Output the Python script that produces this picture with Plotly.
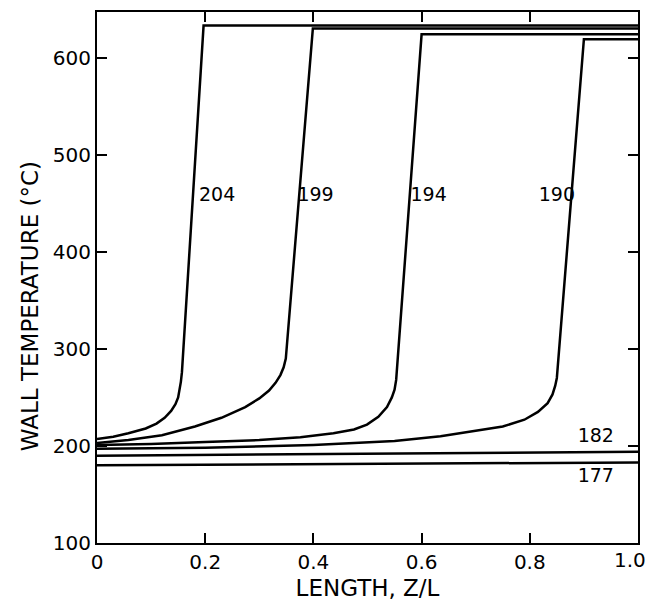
import plotly.graph_objects as go

# Curve data (length Z/L, wall temperature °C)
x204 = [0, 0.03, 0.058, 0.09, 0.11, 0.125, 0.137, 0.145, 0.15, 0.153, 0.155, 0.157, 0.197, 1.0]
y204 = [207, 209.5, 213, 218, 223, 229, 236, 243, 250, 258, 266, 276, 633, 633]

x199 = [0, 0.058, 0.12, 0.181, 0.23, 0.274, 0.3, 0.318, 0.33, 0.339, 0.345, 0.349, 0.399, 1.0]
y199 = [203, 206, 211, 220, 229, 240, 249, 257, 265, 273, 281, 290, 630, 630]

x194 = [0, 0.1, 0.2, 0.3, 0.376, 0.437, 0.475, 0.499, 0.52, 0.536, 0.545, 0.55, 0.553, 0.6, 1.0]
y194 = [201, 202, 204, 206, 209, 213, 217, 222, 230, 240, 250, 258, 268, 624, 624]

x190 = [0, 0.2, 0.4, 0.55, 0.635, 0.697, 0.75, 0.79, 0.815, 0.833, 0.842, 0.847, 0.85, 0.9, 1.0]
y190 = [197, 198, 201, 205, 210, 215, 220, 227, 235, 244, 253, 262, 270, 619, 619]

x182 = [0, 0.5, 1.0]
y182 = [190, 192, 194]

x177 = [0, 0.5, 1.0]
y177 = [180, 181.5, 183]

curve_labels = ["204", "199", "194", "190", "182", "177"]
label_x = [0.222, 0.404, 0.613, 0.85, 0.922, 0.922]
label_y = [457, 457, 457, 457, 209, 168]

x_ticks = [0, 0.2, 0.4, 0.6, 0.8, 1.0]
x_ticktext = ["0", "0.2", "0.4", "0.6", "0.8", "1.0"]
y_ticks = [100, 200, 300, 400, 500, 600]

FONT = "DejaVu Sans"

fig = go.Figure()
for xs, ys in [(x204, y204), (x199, y199), (x194, y194), (x190, y190), (x182, y182), (x177, y177)]:
    fig.add_trace(go.Scatter(x=xs, y=ys, mode="lines",
                             line=dict(color="black", width=2.5), showlegend=False,
                             hoverinfo="skip"))

fig.add_trace(go.Scatter(x=label_x, y=label_y, mode="text", text=curve_labels,
                         textfont=dict(family=FONT, size=19, color="black"),
                         showlegend=False, hoverinfo="skip"))

axis_common = dict(showline=True, linecolor="black", linewidth=2, mirror="ticks",
                   ticks="inside", ticklen=10, tickwidth=2, tickcolor="black",
                   showgrid=False, zeroline=False, automargin=False,
                   tickfont=dict(family=FONT, size=20, color="black"))

# last x tick label drawn as annotation so it isn't hidden at the figure edge
fig.update_xaxes(range=[0, 1.0], tickvals=x_ticks[:-1], ticktext=x_ticktext[:-1],
                 title=dict(text="LENGTH, Z/L", font=dict(family=FONT, size=23, color="black"),
                            standoff=10),
                 **axis_common)
fig.update_yaxes(range=[100, 647], tickvals=y_ticks, **axis_common)

fig.add_annotation(x=x_ticks[-1], y=0, xref="x", yref="paper", text=x_ticktext[-1],
                   showarrow=False, xanchor="center", yanchor="top", xshift=-8, yshift=-3,
                   font=dict(family=FONT, size=20, color="black"))

# y-axis title (placed slightly below centre, as in the original)
fig.add_annotation(x=0, y=0.446, xref="paper", yref="paper", text="WALL TEMPERATURE (°C)",
                   textangle=-90, showarrow=False, xanchor="center", yanchor="middle",
                   xshift=-67, font=dict(family=FONT, size=23, color="black"))

fig.update_layout(width=652, height=601, margin=dict(l=97, r=14, t=12, b=58),
                  plot_bgcolor="white", paper_bgcolor="white")

fig.write_html("out.html")
